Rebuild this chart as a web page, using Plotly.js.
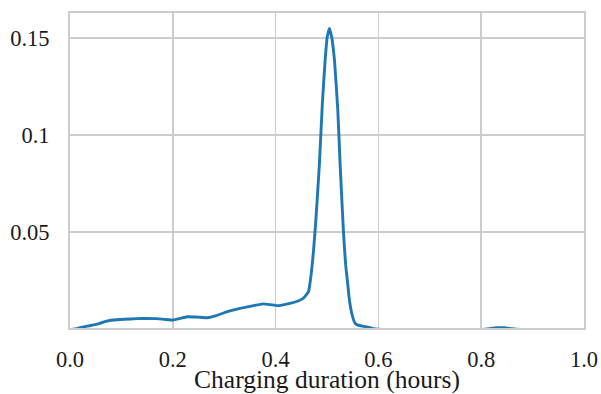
<!DOCTYPE html>
<html>
<head>
<meta charset="utf-8">
<script src="https://cdn.plot.ly/plotly-3.0.1.min.js"></script>
<style>html,body{margin:0;padding:0;background:#fff;}#chart{width:601px;height:394px;}</style>
</head>
<body>
<div id="chart"></div>
<script>
// Charging duration (hours) vs density
const durationHours = [0.0, 0.015, 0.023, 0.04, 0.058, 0.07, 0.084, 0.105, 0.13, 0.15, 0.169, 0.185, 0.2, 0.213, 0.228, 0.248, 0.267, 0.285, 0.306, 0.331, 0.355, 0.376, 0.39, 0.403, 0.428, 0.445, 0.454, 0.464, 0.4686, 0.4736, 0.478, 0.4853, 0.491, 0.4964, 0.5005, 0.5048, 0.509, 0.5145, 0.521, 0.5255, 0.532, 0.5363, 0.5402, 0.5431, 0.5484, 0.5548, 0.5587, 0.5684, 0.578, 0.59, 0.62, 0.7, 0.8, 0.815, 0.83, 0.845, 0.86, 0.88, 1.0];
const density = [0.0, 0.0006, 0.0012, 0.0021, 0.0032, 0.0042, 0.0049, 0.0053, 0.0056, 0.0057, 0.0056, 0.0052, 0.0049, 0.0056, 0.0066, 0.0064, 0.0061, 0.0072, 0.0092, 0.0109, 0.0122, 0.0132, 0.0128, 0.0123, 0.0135, 0.0148, 0.0161, 0.0195, 0.0272, 0.040, 0.055, 0.0854, 0.1163, 0.1386, 0.1505, 0.1548, 0.1505, 0.1386, 0.1129, 0.085, 0.0503, 0.0332, 0.0239, 0.0162, 0.008, 0.0032, 0.0024, 0.0018, 0.0013, 0.0005, 0.0, 0.0, 0.0, 0.0004, 0.0009, 0.0009, 0.0004, 0.0, 0.0];
const xTickVals = [0, 0.2, 0.4, 0.6, 0.8, 1.0];
const xTickText = ["0.0", "0.2", "0.4", "0.6", "0.8", "1.0"];
const yTickVals = [0.05, 0.1, 0.15];
const yTickText = ["0.05", "0.1", "0.15"];
const xLabel = "Charging duration (hours)";

const trace = {
  x: durationHours,
  y: density,
  type: 'scatter',
  mode: 'lines',
  line: {color: '#1f77b4', width: 2.9, shape: 'spline', smoothing: 0.4},
  hoverinfo: 'skip'
};

const fontFam = '"Liberation Serif", "Times New Roman", serif';
const layout = {
  width: 601, height: 394,
  margin: {l: 70, r: 17.3, t: 13, b: 66},
  paper_bgcolor: '#ffffff',
  plot_bgcolor: '#ffffff',
  showlegend: false,
  font: {family: fontFam, size: 22, color: '#1a1a1a'},
  xaxis: {
    range: [0, 1],
    tickvals: xTickVals, ticktext: xTickText,
    showgrid: true, gridcolor: '#cccccc', gridwidth: 1.7,
    showline: true, linecolor: '#cccccc', linewidth: 2, mirror: true,
    zeroline: false, ticks: '', ticklabelstandoff: 10,
    tickfont: {family: fontFam, size: 22.5, color: '#1a1a1a'},
    title: {text: xLabel, font: {family: fontFam, size: 25.5, color: '#1a1a1a'}, standoff: 0}
  },
  yaxis: {
    range: [0.0008, 0.1627],
    tickvals: yTickVals, ticktext: yTickText,
    showgrid: true, gridcolor: '#cccccc', gridwidth: 1.7,
    showline: true, linecolor: '#cccccc', linewidth: 2, mirror: true,
    zeroline: false, ticks: '', ticklabelstandoff: 14,
    tickfont: {family: fontFam, size: 22.5, color: '#1a1a1a'}
  }
};

Plotly.newPlot('chart', [trace], layout, {displayModeBar: false, staticPlot: true});
</script>
</body>
</html>
